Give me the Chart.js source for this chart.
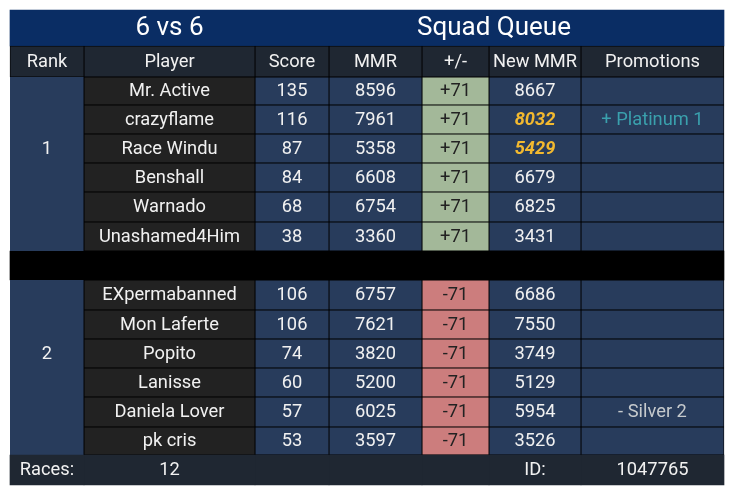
<!DOCTYPE html>
<html>
<head>
<meta charset="utf-8">
<style>
  html, body { margin: 0; padding: 0; background: #fff; }
  canvas { display: block; }
</style>
<script src="https://cdn.jsdelivr.net/npm/chart.js@4/dist/chart.umd.min.js"></script>
</head>
<body>
<canvas id="tabela" width="733" height="494"></canvas>
<script>
// dados
const headers = ['Rank', 'Player', 'Score', 'MMR', '+/-', 'New MMR', 'Promotions'];
const ranks = ['1', '2'];
const players1 = ['Mr. Active', 'crazyflame', 'Race Windu', 'Benshall', 'Warnado', 'Unashamed4Him'];
const scores1 = [135, 116, 87, 84, 68, 38];
const mmr1 = [8596, 7961, 5358, 6608, 6754, 3360];
const delta1 = [71, 71, 71, 71, 71, 71];
const newMmr1 = [8667, 8032, 5429, 6679, 6825, 3431];
const promo1 = ['', '+ Platinum 1', '', '', '', ''];
const players2 = ['EXpermabanned', 'Mon Laferte', 'Popito', 'Lanisse', 'Daniela Lover', 'pk cris'];
const scores2 = [106, 106, 74, 60, 57, 53];
const mmr2 = [6757, 7621, 3820, 5200, 6025, 3597];
const delta2 = [-71, -71, -71, -71, -71, -71];
const newMmr2 = [6686, 7550, 3749, 5129, 5954, 3526];
const promo2 = ['', '', '', '', '- Silver 2', ''];
const destaque = ['8032', '5429'];
const titleLeft = '6 vs 6';
const titleRight = 'Squad Queue';
const footerTexts = ['Races:', '12', '', '', '', 'ID:', '1047765'];

// layout da tabela (eixos em unidades do proprio canvas)
const colEdges = [10, 84, 255, 329, 422, 489, 581, 724];
const rowEdges = [46, 77, 105, 134, 163, 192, 222, 251, 280, 310, 339, 368, 397, 427, 455, 485];
const titleTop = 10;
const titleCenters = [169.5, 494];
const linha = 0.8;

const corTitulo = '#0a2d64';
const corHeader = '#1f2732';
const corNome = '#222222';
const corAzul = '#283c5c';
const corMais = '#a3b899';
const corMenos = '#cc7d7d';
const corTexto = '#f1f1f1';
const fonte = 'Roboto';

const fmtDelta = v => (v > 0 ? '+' : '') + v;

// coluna -> textos das 12 linhas de jogadores
const colTexts = [
  null,
  players1.concat(players2),
  scores1.concat(scores2).map(String),
  mmr1.concat(mmr2).map(String),
  delta1.concat(delta2).map(fmtDelta),
  newMmr1.concat(newMmr2).map(String),
  promo1.concat(promo2)
];
const colFill = [corAzul, corNome, corAzul, corAzul, null, corAzul, corAzul];

// indice da linha em rowEdges: 0 header, 1-6 time 1, 7 faixa preta, 8-13 time 2, 14 rodape
const playerRows = [1, 2, 3, 4, 5, 6, 8, 9, 10, 11, 12, 13];

function band(i) {
  return [rowEdges[i], rowEdges[i + 1]];
}

const datasets = [];

headers.forEach((h, c) => {
  const x = (colEdges[c] + colEdges[c + 1]) / 2;
  const data = [{ x, y: band(0) }];
  const fills = [corHeader];
  const borders = [linha];

  if (c === 0) {
    data.push({ x, y: [rowEdges[1], rowEdges[7]] });
    data.push({ x, y: [rowEdges[8], rowEdges[14]] });
    fills.push(corAzul, corAzul);
    borders.push({ top: 0, left: 0, bottom: 0, right: linha }, { top: 0, left: 0, bottom: 0, right: linha });
  } else {
    playerRows.forEach((r, k) => {
      data.push({ x, y: band(r) });
      fills.push(colFill[c] || (k < 6 ? corMais : corMenos));
      borders.push(linha);
    });
  }
  data.push({ x, y: band(14) });
  fills.push(corHeader);
  borders.push(0);

  datasets.push({
    label: h,
    data,
    stack: 'tabela',
    barThickness: colEdges[c + 1] - colEdges[c],
    backgroundColor: fills,
    borderColor: '#000',
    borderWidth: borders,
    borderSkipped: false
  });
});

// titulo e faixa preta ocupam a largura toda
const larguraTotal = colEdges[7] - colEdges[0];
const centroTotal = (colEdges[0] + colEdges[7]) / 2;
datasets.push({
  label: 'Titulo',
  data: [{ x: centroTotal, y: [titleTop, rowEdges[0]] }],
  stack: 'tabela',
  barThickness: larguraTotal,
  backgroundColor: corTitulo,
  borderWidth: 0
});
datasets.push({
  label: 'Separador',
  data: [{ x: centroTotal, y: band(7) }],
  stack: 'tabela',
  barThickness: larguraTotal,
  backgroundColor: '#000',
  borderWidth: 0
});

const textoPlugin = {
  id: 'textoTabela',
  afterDatasetsDraw(chart) {
    const ctx = chart.ctx;
    const sx = chart.scales.x;
    const sy = chart.scales.y;
    ctx.save();
    ctx.textAlign = 'center';
    ctx.textBaseline = 'middle';

    function put(txt, xv, r0, r1, font, color) {
      if (txt === '') return;
      ctx.font = font;
      ctx.fillStyle = color;
      ctx.fillText(txt, sx.getPixelForValue(xv), sy.getPixelForValue((r0 + r1) / 2) + 0.5);
    }
    const base = '18.3px ' + fonte;

    put(titleLeft, titleCenters[0], titleTop, rowEdges[0], '26px ' + fonte, '#fff');
    put(titleRight, titleCenters[1], titleTop, rowEdges[0], '26px ' + fonte, '#fff');

    headers.forEach((h, c) => {
      const xc = (colEdges[c] + colEdges[c + 1]) / 2;
      put(h, xc, rowEdges[0], rowEdges[1], base, corTexto);
      put(footerTexts[c], xc, rowEdges[14], rowEdges[15], base, corTexto);
      if (c === 0) {
        // o numero do rank fica na terceira linha de cada time
        put(ranks[0], xc, rowEdges[3], rowEdges[4], base, corTexto);
        put(ranks[1], xc, rowEdges[10], rowEdges[11], base, corTexto);
        return;
      }
      colTexts[c].forEach((t, k) => {
        const r = playerRows[k];
        let font = base;
        let color = corTexto;
        if (c === 4) color = '#222222';
        if (c === 5 && destaque.includes(t)) { font = 'italic bold ' + base; color = '#f3b92f'; }
        if (c === 6) color = t.charAt(0) === '+' ? '#3aa0ad' : '#c6cacd';
        put(t, xc, rowEdges[r], rowEdges[r + 1], font, color);
      });
    });
    ctx.restore();
  }
};

new Chart(document.getElementById('tabela'), {
  type: 'bar',
  data: { datasets },
  plugins: [textoPlugin],
  options: {
    responsive: false,
    animation: false,
    devicePixelRatio: 1,
    layout: { padding: 0 },
    plugins: {
      legend: { display: false },
      tooltip: { enabled: false }
    },
    scales: {
      x: { type: 'linear', display: false, min: 0, max: 733, offset: false },
      y: { type: 'linear', display: false, min: 0, max: 494, reverse: true, stacked: false }
    }
  }
});
</script>
</body>
</html>
